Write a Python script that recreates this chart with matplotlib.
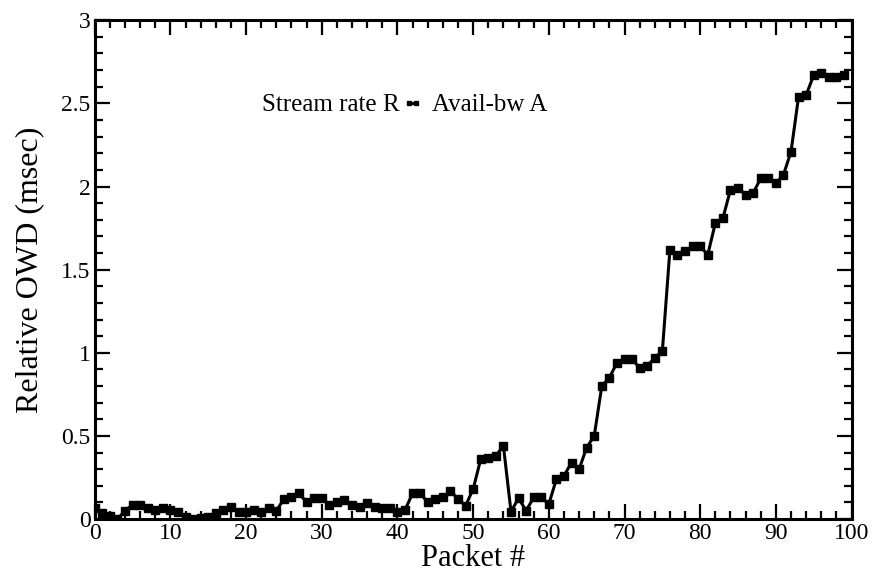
import numpy as np
import matplotlib
matplotlib.use("Agg")
import matplotlib.pyplot as plt
from matplotlib.ticker import MultipleLocator, FuncFormatter

plt.rcParams['font.family'] = ['Liberation Serif', 'DejaVu Serif']

# relative one-way delay per packet (msec)
packet = np.arange(100)
owd = [0.065, 0.035, 0.02, 0.0, 0.05, 0.085, 0.085, 0.065, 0.055, 0.065,
       0.055, 0.045, 0.015, 0.0, 0.005, 0.015, 0.035, 0.055, 0.075, 0.045,
       0.045, 0.055, 0.045, 0.065, 0.05, 0.12, 0.13, 0.155, 0.10, 0.125,
       0.125, 0.085, 0.10, 0.115, 0.085, 0.075, 0.095, 0.075, 0.065, 0.065,
       0.045, 0.055, 0.155, 0.155, 0.10, 0.12, 0.13, 0.17, 0.12, 0.08,
       0.18, 0.36, 0.37, 0.38, 0.44, 0.045, 0.125, 0.05, 0.13, 0.13,
       0.09, 0.24, 0.26, 0.34, 0.30, 0.43, 0.50, 0.80, 0.85, 0.94,
       0.96, 0.96, 0.91, 0.92, 0.97, 1.01, 1.62, 1.59, 1.61, 1.64,
       1.64, 1.59, 1.78, 1.81, 1.98, 1.99, 1.95, 1.96, 2.05, 2.05,
       2.02, 2.07, 2.21, 2.54, 2.55, 2.67, 2.68, 2.66, 2.66, 2.67]

fig = plt.figure(figsize=(8.77, 5.78), dpi=100)
ax = fig.add_axes([0.108, 0.102, 0.863, 0.863])

ax.plot(packet, owd, color='black', lw=2.2, marker='s', ms=5.5,
        label='Avail-bw A')

ax.set_xlim(0, 100)
ax.set_ylim(0, 3)
ax.xaxis.set_major_locator(MultipleLocator(10))
ax.xaxis.set_minor_locator(MultipleLocator(2))
ax.yaxis.set_major_locator(MultipleLocator(0.5))
ax.yaxis.set_minor_locator(MultipleLocator(0.1))
ax.yaxis.set_major_formatter(FuncFormatter(lambda v, p: '%g' % v))

ax.tick_params(which='both', direction='in', top=True, right=True,
               width=1.6, labelsize=17, colors='black')
ax.tick_params(which='major', length=11, pad=3)
ax.tick_params(which='minor', length=5.5)
for s in ax.spines.values():
    s.set_linewidth(2.2)

ax.set_xlabel('Packet #', fontsize=22, labelpad=0)
ax.set_ylabel('Relative OWD (msec)', fontsize=23, labelpad=12)

ax.text(0.403, 0.83, 'Stream rate R', transform=ax.transAxes,
        ha='right', va='center', fontsize=18)
ax.legend(loc='center left', bbox_to_anchor=(0.405, 0.83), frameon=False,
          fontsize=18, handlelength=0.9, handletextpad=0.35, numpoints=2,
          borderpad=0, borderaxespad=0, markerscale=0.55)

fig.savefig('out.png', dpi=100)
